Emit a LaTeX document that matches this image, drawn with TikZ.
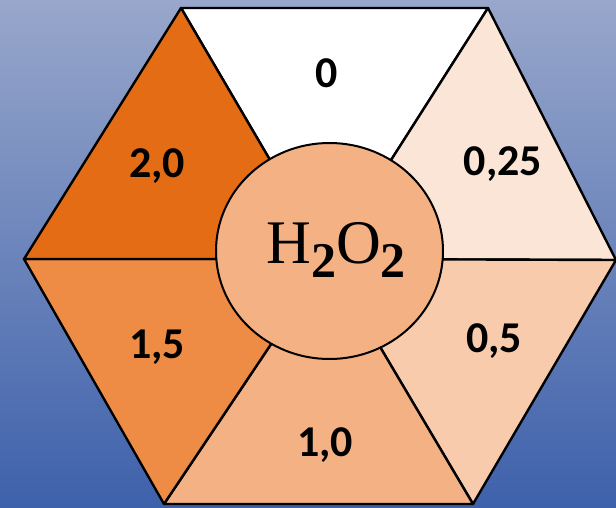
\documentclass[tikz,border=0pt]{standalone}
\usepackage{fontspec}
\setmainfont{Carlito}
\newfontfamily\formulafont{Liberation Serif}
\definecolor{bgtop}{HTML}{98A7CB}
\definecolor{bgbot}{HTML}{3E61AB}
\definecolor{cA}{HTML}{FFFFFF}
\definecolor{cB}{HTML}{FBE5D6}
\definecolor{cC}{HTML}{F8CBAD}
\definecolor{cD}{HTML}{F4B183}
\definecolor{cE}{HTML}{EE8B45}
\definecolor{cF}{HTML}{E46C14}
\tikzset{
  seg/.style={draw=black, line width=2.4pt, line join=round},
  val/.style={font=\fontsize{44}{44}\selectfont\bfseries, inner sep=0pt},
  hub/.style={ellipse, draw=black, line width=2pt, fill=cD, minimum width=227pt, minimum height=216pt, inner sep=0pt}
}
\usetikzlibrary{shapes.geometric}
\begin{document}
\begin{tikzpicture}[x=1pt,y=-1pt]
\useasboundingbox (0,0) rectangle (616,508);
\shade[top color=bgtop, bottom color=bgbot] (0,0) rectangle (616,508);
\coordinate (TL) at (181,8);
\coordinate (TR) at (488,8);
\coordinate (R) at (616,260);
\coordinate (BR) at (473,504);
\coordinate (BL) at (164,504);
\coordinate (L) at (24,259);
\coordinate (C) at (328,259);
\filldraw[seg, fill=cA] (TL) -- (TR) -- (C) -- cycle;
\filldraw[seg, fill=cB] (TR) -- (R) -- (C) -- cycle;
\filldraw[seg, fill=cC] (R) -- (BR) -- (C) -- cycle;
\filldraw[seg, fill=cD] (BR) -- (BL) -- (C) -- cycle;
\filldraw[seg, fill=cE] (BL) -- (L) -- (C) -- cycle;
\filldraw[seg, fill=cF] (L) -- (TL) -- (C) -- cycle;
\node[hub] (h) at (329.5,251) {};
\node[anchor=base, inner sep=0pt] (f) at (336,263) {\formulafont\fontsize{62}{62}\selectfont H\raisebox{-14pt}{\fontsize{50}{50}\selectfont\bfseries 2}O\raisebox{-14pt}{\fontsize{50}{50}\selectfont\bfseries 2}};
\node[val] (v0) at (327,73) {0};
\node[val] (v1) at (503,164) {0,25};
\node[val] (v2) at (494,341) {0,5};
\node[val] (v3) at (325,445) {1,0};
\node[val] (v4) at (157,347) {1,5};
\node[val] (v5) at (157,166) {2,0};
\end{tikzpicture}
\end{document}
